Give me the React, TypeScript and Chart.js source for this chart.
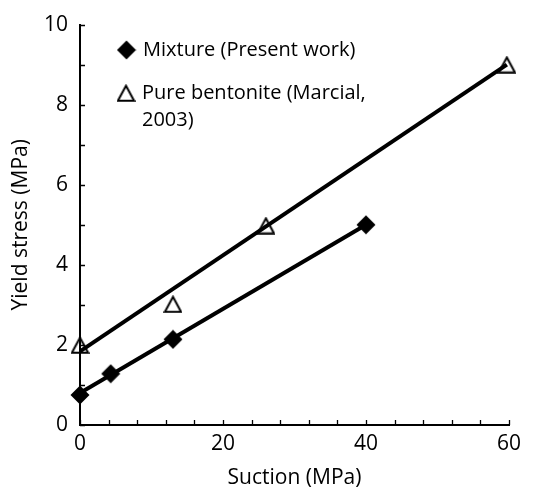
import React, { useEffect, useRef } from "react";
import { Chart, registerables } from "chart.js";

Chart.register(...registerables);

// ---- data ----
const mixtureSuction = [0, 4.3, 13, 40];
const mixtureYield = [0.75, 1.28, 2.14, 5.0];
const bentoniteSuction = [0, 13, 26, 59.7];
const bentoniteYield = [2.0, 3.02, 4.98, 9.0];
const mixtureFitSuction = [0, 40];
const mixtureFitYield = [0.8, 5.0];
const bentoniteFitSuction = [0, 59.7];
const bentoniteFitYield = [1.84, 9.0];

const xMinorTicks = [0, 4, 8, 12, 16, 20, 24, 28, 32, 36, 40, 44, 48, 52, 56, 60];
const yMinorTicks = [0, 1, 2, 3, 4, 5, 6, 7, 8, 9, 10];

const mixtureLabel = ["Mixture (Present work)"];
const bentoniteLabel = ["Pure bentonite (Marcial,", "2003)"];

const FONT = "'Open Sans', sans-serif";
const FS = 21;
const LEGEND_FS = 20;

function makeDiamond(): HTMLCanvasElement {
  const c = document.createElement("canvas");
  c.width = 20;
  c.height = 20;
  const g = c.getContext("2d")!;
  g.fillStyle = "#000";
  g.beginPath();
  g.moveTo(10, 0.5);
  g.lineTo(19.5, 10);
  g.lineTo(10, 19.5);
  g.lineTo(0.5, 10);
  g.closePath();
  g.fill();
  return c;
}

function makeTriangle(): HTMLCanvasElement {
  const c = document.createElement("canvas");
  c.width = 19;
  c.height = 18;
  const g = c.getContext("2d")!;
  g.strokeStyle = "#000";
  g.lineWidth = 2;
  g.lineJoin = "miter";
  g.beginPath();
  g.moveTo(9.5, 1.8);
  g.lineTo(17.6, 16.8);
  g.lineTo(1.4, 16.8);
  g.closePath();
  g.stroke();
  return c;
}

export default function App() {
  const ref = useRef<HTMLCanvasElement | null>(null);

  useEffect(() => {
    if (!ref.current) return;
    const diamond = makeDiamond();
    const triangle = makeTriangle();

    const innerTicks = {
      id: "innerTicks",
      afterDraw(chart: any) {
        const { ctx, chartArea, scales } = chart;
        const x = scales.x;
        const y = scales.y;
        ctx.save();
        ctx.strokeStyle = "#000";
        ctx.lineWidth = 1.3;
        ctx.beginPath();
        for (const v of xMinorTicks) {
          const px = Math.round(x.getPixelForValue(v)) + 0.5;
          ctx.moveTo(px, chartArea.bottom);
          ctx.lineTo(px, chartArea.bottom - 5);
        }
        for (const v of yMinorTicks) {
          const py = Math.round(y.getPixelForValue(v)) + 0.5;
          ctx.moveTo(chartArea.left, py);
          ctx.lineTo(chartArea.left + 5, py);
        }
        ctx.stroke();
        ctx.restore();
      },
    };

    const customLegend = {
      id: "customLegend",
      afterDraw(chart: any) {
        const { ctx } = chart;
        ctx.save();
        ctx.fillStyle = "#000";
        ctx.font = `${LEGEND_FS}px ${FONT}`;
        ctx.textBaseline = "middle";
        ctx.textAlign = "left";
        ctx.drawImage(diamond, 126.5 - 10, 50 - 10);
        mixtureLabel.forEach((t, i) => ctx.fillText(t, 143, 50 + i * 27));
        ctx.drawImage(triangle, 126 - 9.5, 93 - 9);
        bentoniteLabel.forEach((t, i) => ctx.fillText(t, 142, 93 + i * 27));
        ctx.restore();
      },
    };

    const toPts = (xs: number[], ys: number[]) => xs.map((v, i) => ({ x: v, y: ys[i] }));

    const chart = new Chart(ref.current, {
      type: "scatter",
      data: {
        datasets: [
          {
            label: "Mixture fit",
            type: "line",
            data: toPts(mixtureFitSuction, mixtureFitYield),
            borderColor: "#000",
            borderWidth: 4,
            pointRadius: 0,
            fill: false,
            clip: false,
          } as any,
          {
            label: "Bentonite fit",
            type: "line",
            data: toPts(bentoniteFitSuction, bentoniteFitYield),
            borderColor: "#000",
            borderWidth: 4,
            pointRadius: 0,
            fill: false,
            clip: false,
          } as any,
          {
            label: "Mixture (Present work)",
            data: toPts(mixtureSuction, mixtureYield),
            pointStyle: diamond,
            pointRadius: 10,
            clip: false,
          } as any,
          {
            label: "Pure bentonite (Marcial, 2003)",
            data: toPts(bentoniteSuction, bentoniteYield),
            pointStyle: triangle,
            pointRadius: 10,
            clip: false,
          } as any,
        ],
      },
      options: {
        responsive: false,
        animation: false,
        layout: { padding: { top: 22, right: 35, bottom: 0, left: 0 } },
        plugins: {
          legend: { display: false },
          tooltip: { enabled: false },
          title: { display: false },
        },
        scales: {
          x: {
            type: "linear",
            min: 0,
            max: 60,
            ticks: {
              stepSize: 20,
              color: "#000",
              font: { family: FONT, size: FS },
              padding: 6,
              maxRotation: 0,
            },
            grid: { display: false, drawTicks: false },
            border: { display: true, color: "#000", width: 2 },
            title: {
              display: true,
              text: "Suction (MPa)",
              color: "#000",
              font: { family: FONT, size: FS },
              padding: { top: 0, bottom: 8 },
            },
            afterFit(scale: any) {
              scale.height = 74;
            },
          },
          y: {
            type: "linear",
            min: 0,
            max: 10,
            ticks: {
              stepSize: 2,
              color: "#000",
              font: { family: FONT, size: FS },
              padding: 12,
            },
            grid: { display: false, drawTicks: false },
            border: { display: true, color: "#000", width: 2 },
            title: {
              display: true,
              text: "Yield stress (MPa)",
              color: "#000",
              font: { family: FONT, size: FS },
              padding: { top: 8, bottom: 0 },
            },
            afterFit(scale: any) {
              scale.width = 80;
            },
          },
        },
      },
      plugins: [innerTicks, customLegend],
    });

    return () => chart.destroy();
  }, []);

  return (
    <div style={{ position: "absolute", left: 0, top: 0, width: 544, height: 499, background: "#fff" }}>
      <canvas ref={ref} width={544} height={499} style={{ display: "block" }} />
    </div>
  );
}
